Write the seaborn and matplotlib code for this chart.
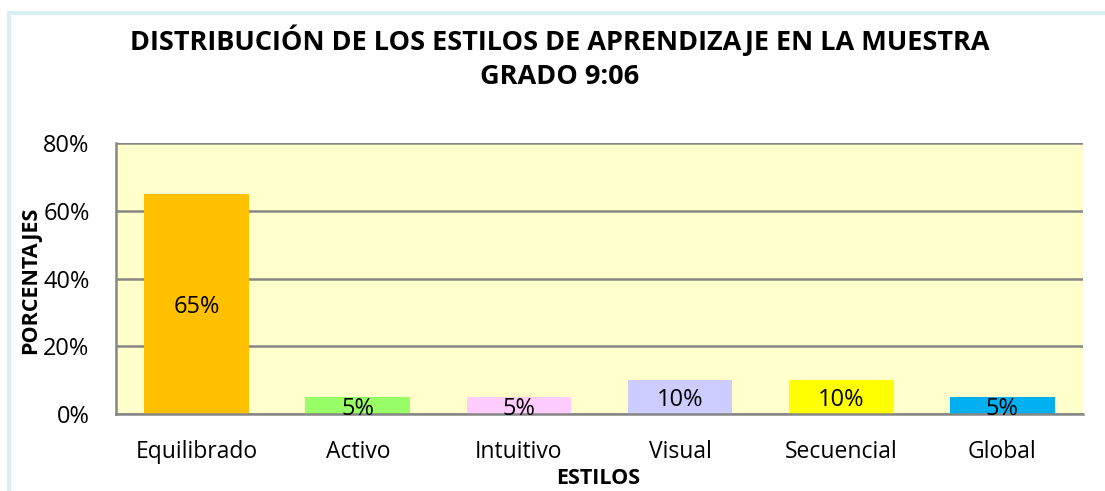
import matplotlib
matplotlib.use("Agg")
import matplotlib.pyplot as plt
import seaborn as sns
import pandas as pd
from matplotlib.patches import Rectangle
from matplotlib.ticker import FuncFormatter

categories = ["Equilibrado", "Activo", "Intuitivo", "Visual", "Secuencial", "Global"]
values = [65, 5, 5, 10, 10, 5]
colors = ["#FFC000", "#99FF66", "#FFCCFF", "#CCCCFF", "#FFFF00", "#00B0F0"]
yticks = [0, 20, 40, 60, 80]
title = "DISTRIBUCIÓN DE LOS ESTILOS DE APRENDIZAJE EN LA MUESTRA\nGRADO 9:06"

sns.set_theme(style="white")
plt.rcParams["font.family"] = ["Open Sans", "DejaVu Sans"]
plt.rcParams["text.color"] = "black"
plt.rcParams["axes.labelcolor"] = "black"

df = pd.DataFrame({"estilo": categories, "valor": values})

W, H = 1105, 491
fig = plt.figure(figsize=(W / 100, H / 100), dpi=100)
fig.patch.set_facecolor("white")
# light blue chart frame
fig.patches.append(Rectangle((9 / W, -0.05), 1.2, (H - 13) / H + 0.05,
                             transform=fig.transFigure, fill=False,
                             edgecolor="#DAEEF3", linewidth=3, zorder=0))

ax = fig.add_axes([116 / W, 1 - 414 / H, (1083 - 116) / W, (414 - 143) / H])
ax.set_facecolor("#FFFFCC")

sns.barplot(data=df, x="estilo", y="valor", hue="estilo", palette=colors,
            legend=False, width=0.65, ax=ax, zorder=3, saturation=1, linewidth=0)

ax.set_ylim(0, 80)
ax.set_xlim(-0.5, len(categories) - 0.5)
ax.set_yticks(yticks)
ax.yaxis.set_major_formatter(FuncFormatter(lambda v, p: f"{int(v)}%"))
ax.grid(axis="y", color="#868686", linewidth=1.8, zorder=1)
ax.set_axisbelow(True)

for s in ["top", "right"]:
    ax.spines[s].set_visible(False)
for s in ["left", "bottom"]:
    ax.spines[s].set_color("#868686")
    ax.spines[s].set_linewidth(1.8)
    ax.spines[s].set_zorder(4)

ax.tick_params(axis="both", length=0, colors="black")
ax.tick_params(axis="y", pad=19, labelsize=17)
ax.tick_params(axis="x", pad=19, labelsize=16.5)

for i, v in enumerate(values):
    ax.text(i, v / 2, f"{v}%", ha="center", va="center_baseline", fontsize=17,
            color="black", zorder=5)

ax.set_xlabel("ESTILOS", fontsize=15.5, fontweight="bold", color="black")
ax.set_ylabel("PORCENTAJES", fontsize=15.5, fontweight="bold", color="black")
ax.xaxis.set_label_coords(598 / W, 1 - 478 / H, transform=fig.transFigure)
ax.yaxis.set_label_coords(31 / W, 1 - 280 / H, transform=fig.transFigure)
ax.xaxis.label.set_va("center")
ax.yaxis.label.set_va("center")

fig.text(560 / W, 1 - 57 / H, title, ha="center", va="center", color="black",
         fontsize=19.5, fontweight="bold", linespacing=1.4)

fig.savefig("out.png", dpi=100)
